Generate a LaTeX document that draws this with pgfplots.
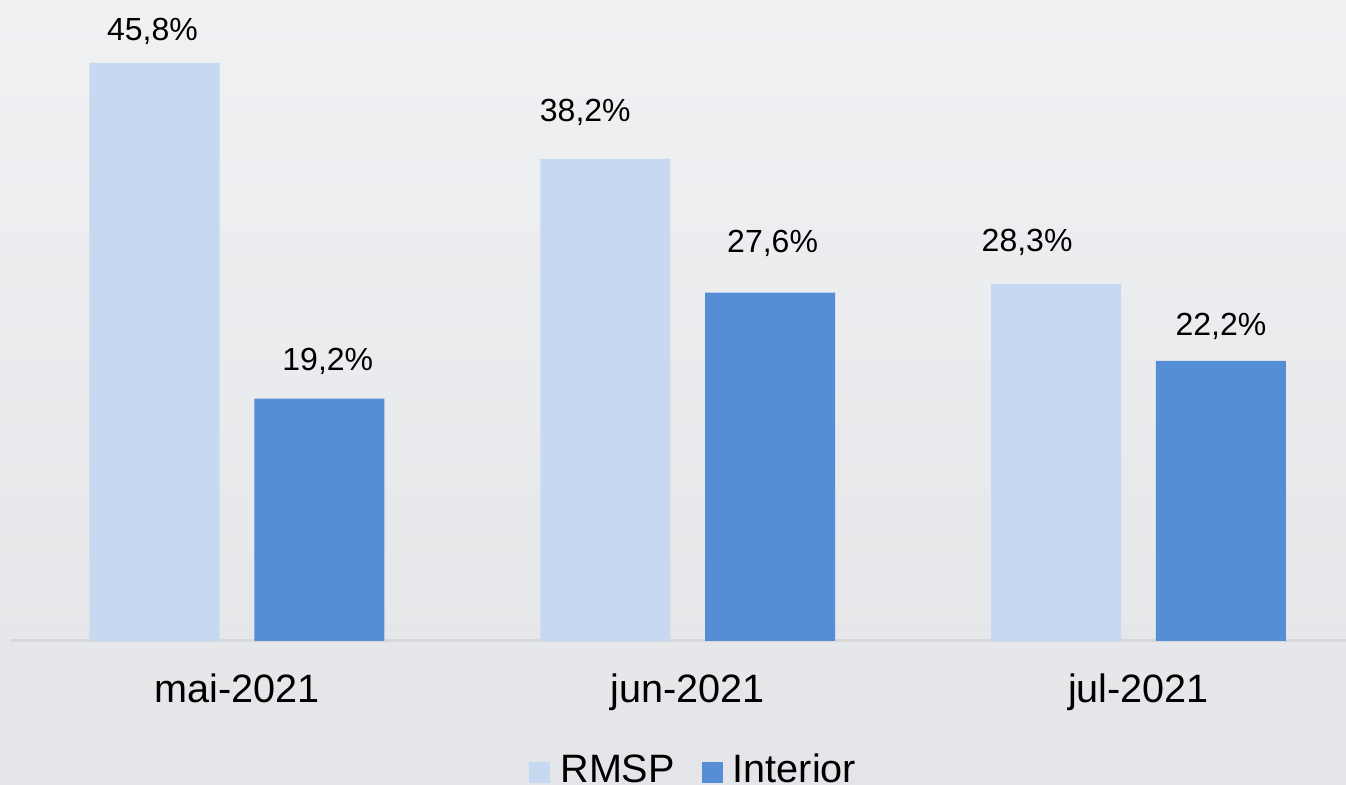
\documentclass[border=0pt]{standalone}
\usepackage{fontspec}
\setmainfont{Liberation Sans}
\usepackage{pgfplots}
\usepackage{pgfplotstable}
\pgfplotsset{compat=1.18}

\definecolor{rmspBlue}{HTML}{C6D9F0}
\definecolor{interiorBlue}{HTML}{558ED5}
\definecolor{bgTop}{HTML}{F0F1F3}
\definecolor{bgBottom}{HTML}{E3E5E8}
\definecolor{baseGray}{HTML}{D6D7D9}

% x, value, label shift (pt)
\pgfplotstableread{
x y dx dy
0 45.8 -42.2 11.2
1 38.2 -51.2 18.65
2 28.3 -55.7 16.15
}\rmsp
\pgfplotstableread{
x y dx dy
0 19.2 45.45 14.15
1 27.6 42.45 20.3
2 22.2 41.2 12.5
}\interior

\begin{document}
\begin{tikzpicture}
  \useasboundingbox (0,0) rectangle (673pt,392.5pt);
  \shade[top color=bgTop, bottom color=bgBottom] (0,0) rectangle (673pt,392.5pt);
  \begin{axis}[
      at={(5.75pt,72pt)}, anchor=south west,
      scale only axis,
      width=676.2pt, height=320.5pt,
      xmin=-0.5, xmax=2.5,
      ymin=0, ymax=50.79,
      clip=false,
      axis y line=none,
      axis x line*=bottom,
      x axis line style={draw=baseGray, line width=1.5pt},
      xtick={0,1,2},
      xticklabels={mai-2021, jun-2021, jul-2021},
      xtick style={draw=none},
      xticklabel style={font=\fontsize{19.8}{24}\selectfont, anchor=base, yshift=-31pt},
      ytick=\empty,
      bar width=65pt,
      /pgf/number format/assume math mode=true,
      nodes near coords={\pgfmathprintnumber[fixed, fixed zerofill, precision=1, use comma]{\pgfplotspointmeta}\%},
      visualization depends on={\thisrow{dx} \as \dx},
      visualization depends on={\thisrow{dy} \as \dy},
      nodes near coords style={font=\fontsize{16}{20}\selectfont, text=black, anchor=base, xshift=\dx pt, yshift=\dy pt},
      legend columns=-1,
      legend style={draw=none, fill=none, inner sep=0pt,
        at={(axis cs:0.648,-11.49)}, anchor=south west,
        font=\fontsize{19.8}{24}\selectfont,
        nodes={inner sep=0pt},
        /tikz/every odd column/.append style={column sep=5pt},
        /tikz/every even column/.append style={column sep=13.5pt}},
      legend image code/.code={\fill[#1] (0pt,-6.5pt) rectangle (10.5pt,4pt);},
    ]
    \addplot[ybar, bar shift=-41.2pt, fill=rmspBlue, draw=none] table[x=x, y=y] {\rmsp};
    \addplot[ybar, bar shift=41.2pt, fill=interiorBlue, draw=none] table[x=x, y=y] {\interior};
    \legend{RMSP, Interior}
  \end{axis}
\end{tikzpicture}
\end{document}
